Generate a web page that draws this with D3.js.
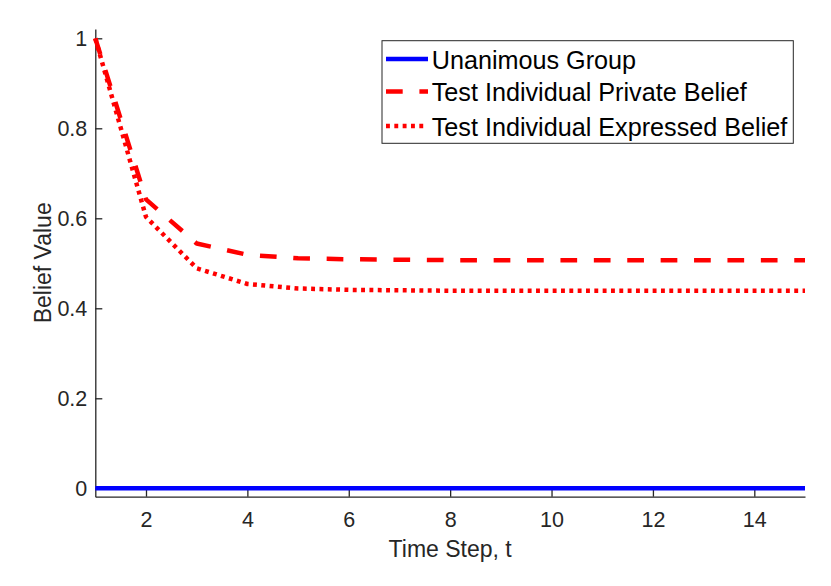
<!DOCTYPE html>
<html>
<head>
<meta charset="utf-8">
<script src="https://cdn.jsdelivr.net/npm/d3@7/dist/d3.min.js"></script>
<style>
  html, body { margin: 0; padding: 0; background: #fff; }
  svg { display: block; font-family: "Liberation Sans", Arial, Helvetica, sans-serif; }
</style>
</head>
<body>
<svg id="chart" width="831" height="586"></svg>
<script>
const timeSteps = [1, 2, 3, 4, 5, 6, 7, 8, 9, 10, 11, 12, 13, 14, 15];
const unanimousGroup = [0, 0, 0, 0, 0, 0, 0, 0, 0, 0, 0, 0, 0, 0, 0];
const privateBelief = [1.0, 0.642, 0.544, 0.519, 0.511, 0.509, 0.508, 0.507, 0.507, 0.507, 0.507, 0.507, 0.507, 0.507, 0.507];
const expressedBelief = [1.0, 0.603, 0.489, 0.454, 0.444, 0.441, 0.440, 0.439, 0.439, 0.439, 0.439, 0.439, 0.439, 0.439, 0.439];
const xTicks = [2, 4, 6, 8, 10, 12, 14];
const yTicks = [0, 0.2, 0.4, 0.6, 0.8, 1];
const seriesNames = ["Unanimous Group", "Test Individual Private Belief", "Test Individual Expressed Belief"];

const svg = d3.select("#chart");
const mLeft = 95.3, mRight = 805, mTop = 29, mBottom = 496.7;
const x = d3.scaleLinear().domain([1, 15]).range([mLeft, mRight]);
const y = d3.scaleLinear().domain([-0.0187, 1.0207]).range([mBottom, mTop]);
const axisColor = "#262626";

// Axes
const xAxis = svg.append("g").attr("transform", `translate(0,${mBottom})`)
  .call(d3.axisBottom(x).tickValues(xTicks).tickSizeInner(-7).tickSizeOuter(0).tickPadding(15).tickFormat(d3.format("d")));
const yAxis = svg.append("g").attr("transform", `translate(${mLeft},0)`)
  .call(d3.axisLeft(y).tickValues(yTicks).tickSizeInner(-7).tickSizeOuter(0).tickPadding(8).tickFormat(d => String(d)));
[xAxis, yAxis].forEach(g => {
  g.select(".domain").attr("stroke", axisColor).attr("stroke-width", 1.3);
  g.selectAll(".tick line").attr("stroke", axisColor).attr("stroke-width", 1.3);
  g.selectAll(".tick text").attr("fill", axisColor).attr("font-size", 21.5)
    .attr("font-family", "'Liberation Sans', Arial, Helvetica, sans-serif");
});
xAxis.selectAll(".tick text").attr("dy", "0.71em");
yAxis.selectAll(".tick text").attr("dy", "0.35em");

// Axis titles
svg.append("text").attr("x", (mLeft + mRight) / 2).attr("y", 556.5)
  .attr("text-anchor", "middle").attr("font-size", 23).attr("fill", axisColor)
  .text("Time Step, t");
svg.append("text").attr("transform", `translate(51,${(mTop + mBottom) / 2}) rotate(-90)`)
  .attr("text-anchor", "middle").attr("font-size", 23).attr("fill", axisColor)
  .text("Belief Value");

// Lines
const styles = [
  { color: "#0000ff", dash: null },
  { color: "#ff0000", dash: "16.7,16.7" },
  { color: "#ff0000", dash: "3.9,4.43" }
];
const seriesData = [unanimousGroup, privateBelief, expressedBelief];
const line = d3.line().x((d, i) => x(timeSteps[i])).y(d => y(d));
seriesData.forEach((s, k) => {
  svg.append("path").datum(s).attr("d", line)
    .attr("fill", "none").attr("stroke", styles[k].color).attr("stroke-width", 4.5)
    .attr("stroke-dasharray", styles[k].dash).attr("stroke-linejoin", "round");
});

// Legend
const lg = svg.append("g");
lg.append("rect").attr("x", 382).attr("y", 40.7).attr("width", 411.3).attr("height", 102.6)
  .attr("fill", "#fff").attr("stroke", axisColor).attr("stroke-width", 1);
const rowY = [59, 91.5, 126];
seriesNames.forEach((name, k) => {
  lg.append("line").attr("x1", 386).attr("x2", k === 2 ? 426 : 428)
    .attr("y1", rowY[k]).attr("y2", rowY[k])
    .attr("stroke", styles[k].color).attr("stroke-width", 4.5)
    .attr("stroke-dasharray", styles[k].dash);
  lg.append("text").attr("x", 431.7).attr("y", rowY[k] + 9.5)
    .attr("font-size", 25.2).attr("fill", "#000").text(name);
});
</script>
</body>
</html>
